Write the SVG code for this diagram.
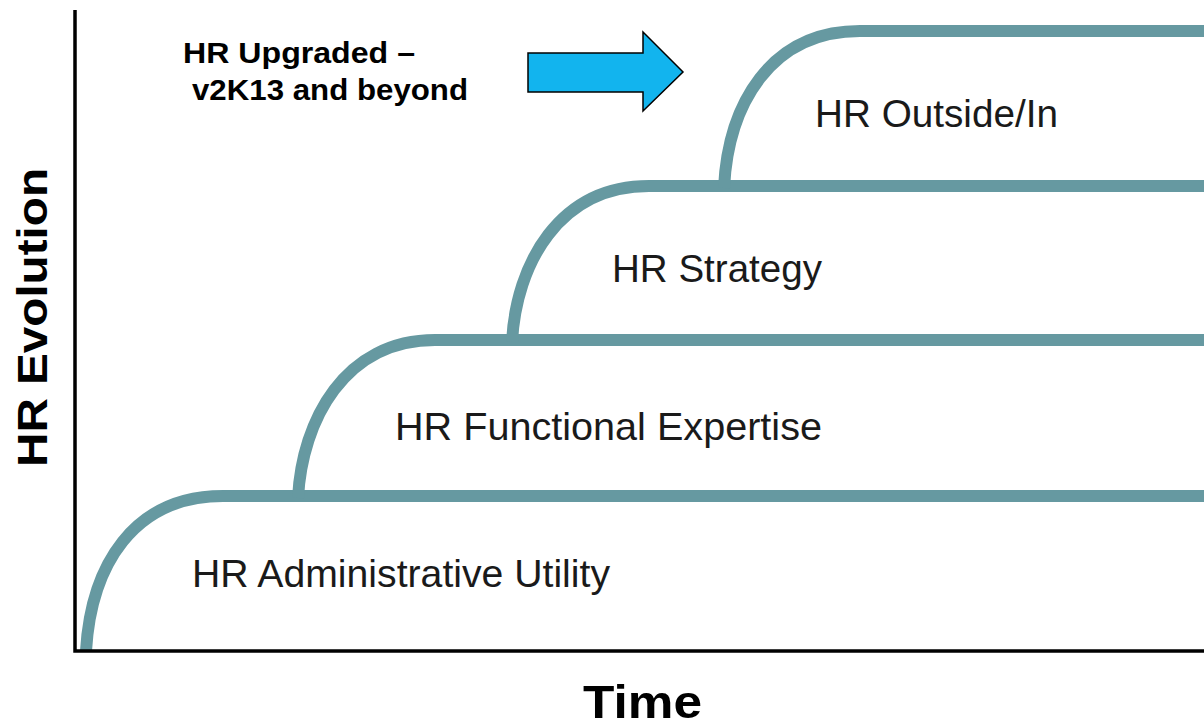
<svg xmlns="http://www.w3.org/2000/svg" width="1204" height="728" viewBox="0 0 1204 728">
  <style>
    .band { fill: none; stroke: #6699a1; stroke-width: 12; stroke-linecap: butt; }
    .axis { fill: none; stroke: #000; stroke-width: 3.5; }
    .lbl { font-family: "Liberation Sans", Arial, sans-serif; font-size: 39px; fill: #1a1a1a; }
    .bold { font-family: "Liberation Sans", Arial, sans-serif; font-weight: bold; fill: #000; }
  </style>
  <rect width="1204" height="728" fill="#ffffff"/>

  <g id="stage-admin">
    <path class="band" d="M86 651 C91 566 133 496 223 496 L1204 496"/>
    <text class="lbl" x="192" y="587" textLength="418" lengthAdjust="spacingAndGlyphs">HR Administrative Utility</text>
  </g>

  <g id="stage-functional">
    <path class="band" d="M298 498 C302 420 345 340 435 340 L1204 340"/>
    <text class="lbl" x="395" y="440" textLength="427" lengthAdjust="spacingAndGlyphs">HR Functional Expertise</text>
  </g>

  <g id="stage-strategy">
    <path class="band" d="M512 342 C516 264 559 186 649 186 L1204 186"/>
    <text class="lbl" x="612" y="282" textLength="210" lengthAdjust="spacingAndGlyphs">HR Strategy</text>
  </g>

  <g id="stage-outside-in">
    <path class="band" d="M724 188 C728 105 770 31 860 31 L1204 31"/>
    <text class="lbl" x="815" y="127" textLength="243" lengthAdjust="spacingAndGlyphs">HR Outside/In</text>
  </g>

  <g id="axes">
    <path class="axis" d="M75 10 L75 651 L1204 651"/>
    <text class="bold" x="583" y="718" font-size="47" textLength="119" lengthAdjust="spacingAndGlyphs">Time</text>
    <text class="bold" transform="translate(47 467) rotate(-90)" x="0" y="0" font-size="43" textLength="299" lengthAdjust="spacingAndGlyphs">HR Evolution</text>
  </g>

  <g id="upgrade-callout">
    <text class="bold" x="183" y="63" font-size="30" textLength="232" lengthAdjust="spacingAndGlyphs">HR Upgraded –</text>
    <text class="bold" x="192" y="100" font-size="30" textLength="276" lengthAdjust="spacingAndGlyphs">v2K13 and beyond</text>
    <polygon points="528,53 643,53 643,32 683,72 643,111 643,92 528,92" fill="#12b4ee" stroke="#000" stroke-width="1.5" stroke-linejoin="miter"/>
  </g>
</svg>
